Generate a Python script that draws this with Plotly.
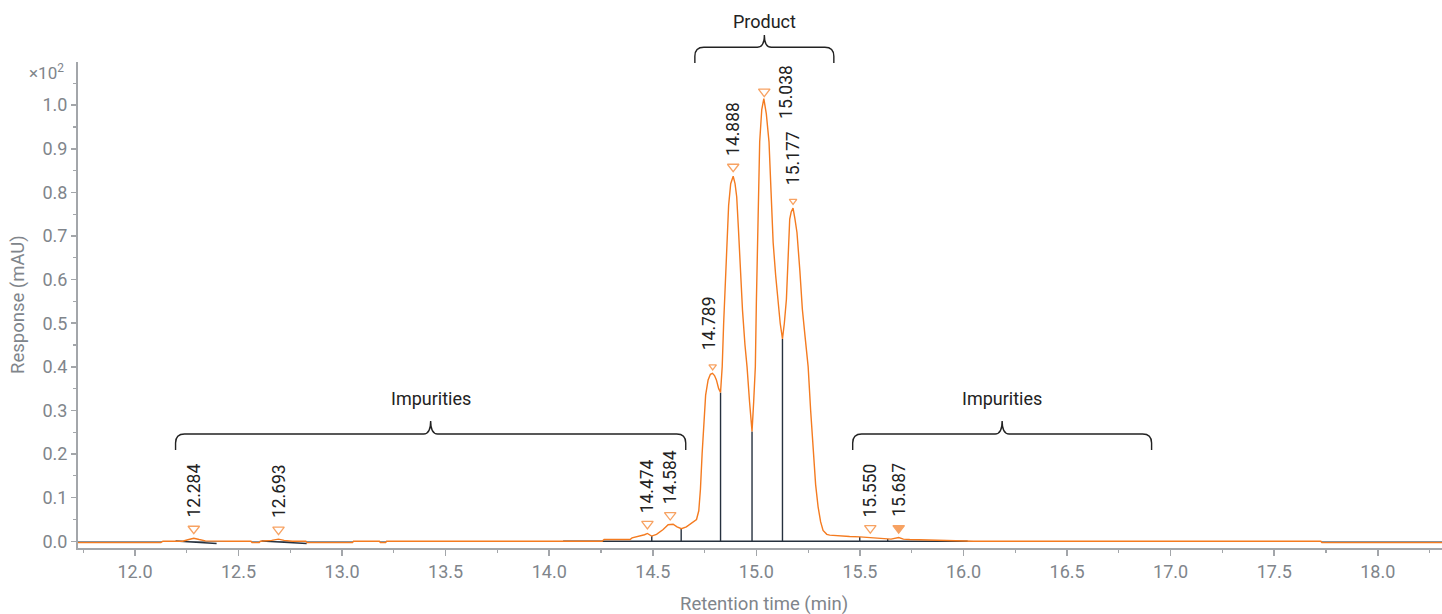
import numpy as np
import plotly.graph_objects as go

# ---------------- data ----------------
time_min = [11.725, 12.125, 12.135, 12.23, 12.26, 12.284, 12.31, 12.34, 12.45,
            12.56, 12.565, 12.60, 12.605, 12.66, 12.693, 12.72, 12.76, 12.825,
            12.83, 13.05, 13.055, 13.18, 13.185, 13.21, 13.215, 14.255, 14.265,
            14.39, 14.40, 14.437, 14.46, 14.474, 14.494, 14.518, 14.55, 14.574,
            14.598, 14.617, 14.638, 14.662, 14.694, 14.711, 14.722, 14.73, 14.738,
            14.746, 14.755, 14.767, 14.778, 14.788, 14.798, 14.807, 14.818, 14.827,
            14.835, 14.842, 14.85, 14.858, 14.866, 14.876, 14.888, 14.897, 14.905,
            14.913, 14.92, 14.933, 14.945, 14.955, 14.967, 14.979, 14.987, 14.995,
            15.0, 15.008, 15.016, 15.026, 15.036, 15.048, 15.061, 15.071, 15.081,
            15.093, 15.105, 15.115, 15.126, 15.135, 15.145, 15.153, 15.161, 15.168,
            15.177, 15.186, 15.196, 15.21, 15.222, 15.235, 15.25, 15.262, 15.274,
            15.286, 15.298, 15.31, 15.322, 15.34, 15.354, 15.40, 15.45, 15.50,
            15.61, 15.65, 15.687, 15.71, 15.74, 15.85, 16.0, 16.05, 17.725, 17.73,
            18.31]
response = [-0.003, -0.003, 0.0, 0.0, 0.004, 0.007, 0.004, 0.001, 0.0,
            0.0, -0.003, -0.003, 0.0, 0.002, 0.005, 0.002, 0.0, 0.0,
            -0.003, -0.003, 0.0, 0.0, -0.003, -0.003, 0.0, 0.0, 0.004,
            0.004, 0.0077, 0.0115, 0.015, 0.018, 0.012, 0.016, 0.027, 0.038,
            0.039, 0.033, 0.029, 0.033, 0.043, 0.05, 0.07, 0.12, 0.20,
            0.28, 0.335, 0.37, 0.383, 0.385, 0.38, 0.37, 0.35, 0.341,
            0.40, 0.50, 0.60, 0.70, 0.77, 0.82, 0.837, 0.82, 0.79,
            0.72, 0.647, 0.53, 0.45, 0.40, 0.32, 0.252, 0.32, 0.40,
            0.55, 0.75, 0.916, 0.99, 1.015, 0.98, 0.916, 0.80, 0.685,
            0.61, 0.54, 0.50, 0.464, 0.50, 0.555, 0.66, 0.739, 0.755,
            0.764, 0.74, 0.708, 0.62, 0.532, 0.47, 0.40, 0.30, 0.21,
            0.13, 0.079, 0.045, 0.025, 0.016, 0.014, 0.012, 0.011, 0.010,
            0.006, 0.005, 0.0085, 0.005, 0.004, 0.0023, 0.001, 0.0, 0.0, -0.003,
            -0.003]

peak_times = [12.284, 12.693, 14.474, 14.584, 14.789, 14.888, 15.038, 15.177, 15.550, 15.687]
peak_labels = ["12.284", "12.693", "14.474", "14.584", "14.789", "14.888",
               "15.038", "15.177", "15.550", "15.687"]
peak_small = [False, False, False, False, True, False, False, True, False, False]
peak_filled = [False, False, False, False, False, False, False, False, False, True]

drop_times = [14.495, 14.637, 14.827, 14.979, 15.126, 15.499, 15.634]

baseline_t0 = [12.196, 12.611, 14.067, 15.499]
baseline_t1 = [12.394, 12.829, 15.499, 16.02]
baseline_v0 = [0.0007, 0.0007, 0.0, 0.0]
baseline_v1 = [-0.005, -0.005, 0.0, 0.0]

group_labels = ["Impurities", "Product", "Impurities"]
group_t0 = [12.196, 14.703, 15.465]
group_t1 = [14.659, 15.374, 16.908]

x_ticks_fmt = ".1f"

# ---------------- layout constants ----------------
W, H = 1442, 614
ML, MR, MT, MB = 78, 0, 62, 66
PW, PH = W - ML - MR, H - MT - MB
X_RANGE = [11.725, 18.31]
Y_RANGE = [-0.0154, 1.099]
px_x = PW / (X_RANGE[1] - X_RANGE[0])
px_y = PH / (Y_RANGE[1] - Y_RANGE[0])

ORANGE = "#F47B20"
DARK = "#26313f"
GRAY = "#80858b"
AXIS = "#a3a6aa"
FONT = "Roboto"

t_arr = np.array(time_min)
r_arr = np.array(response)

fig = go.Figure()

# integration baselines and drop lines
bx, by = [], []
for a, b, va, vb in zip(baseline_t0, baseline_t1, baseline_v0, baseline_v1):
    bx += [a, b, None]
    by += [va, vb, None]
for t in drop_times:
    bx += [t, t, None]
    by += [0.0, float(np.interp(t, t_arr, r_arr)), None]
fig.add_trace(go.Scatter(x=bx, y=by, mode="lines",
                         line=dict(color=DARK, width=1.4), hoverinfo="skip",
                         showlegend=False))

# chromatogram
fig.add_trace(go.Scatter(x=time_min, y=response, mode="lines",
                         line=dict(color=ORANGE, width=1.4), showlegend=False))

# peak markers
pk_h = np.interp(peak_times, t_arr, r_arr)
mk_y = [h + (7 if s else 9.5) / px_y for h, s in zip(pk_h, peak_small)]
fig.add_trace(go.Scatter(
    x=peak_times, y=mk_y, mode="markers",
    marker=dict(symbol=["triangle-down" if f else "triangle-down-open" for f in peak_filled],
                size=[6.5 if s else 10 for s in peak_small],
                color=ORANGE, line=dict(color=ORANGE, width=1.3)),
    showlegend=False, hoverinfo="skip"))

annotations = []
for t, y, lab, s in zip(peak_times, mk_y, peak_labels, peak_small):
    if lab == "15.038":
        annotations.append(dict(x=t, y=y, xref="x", yref="y", text=lab, showarrow=False,
                                textangle=-90, xanchor="left", yanchor="middle", xshift=9,
                                font=dict(family=FONT, size=17.5, color="#222222")))
    else:
        annotations.append(dict(x=t, y=y, xref="x", yref="y", text=lab, showarrow=False,
                                textangle=-90, xanchor="center", yanchor="bottom",
                                yshift=(14 if s else 9), xshift=(-4 if lab == "14.789" else 0),
                                font=dict(family=FONT, size=17.5, color="#222222")))

# braces
def ppy(py):
    return (H - MB - py) / PH

shapes = []
for lab, a, b in zip(group_labels, group_t0, group_t1):
    if lab == "Product":
        yb, yl, yc, ytxt = ppy(63), ppy(47.3), ppy(35), ppy(21)
    else:
        yb, yl, yc, ytxt = ppy(450), ppy(434), ppy(421), ppy(398)
    m = (a + b) / 2
    rx = 9 / px_x
    rv = 9 / PH
    cx = 7 / px_x
    path = (f"M{a},{yb} L{a},{yl - rv} Q{a},{yl} {a + rx},{yl} "
            f"L{m - cx},{yl} Q{m},{yl} {m},{yc} Q{m},{yl} {m + cx},{yl} "
            f"L{b - rx},{yl} Q{b},{yl} {b},{yl - rv} L{b},{yb}")
    shapes.append(dict(type="path", path=path, xref="x", yref="paper",
                       line=dict(color="#222222", width=1.4)))
    annotations.append(dict(x=m, y=ytxt, xref="x", yref="paper", text=lab,
                            showarrow=False, xanchor="center", yanchor="middle",
                            font=dict(family=FONT, size=18, color="#222222")))

# axis titles and exponent
annotations.append(dict(x=0, y=0.5, xref="paper", yref="paper", text="Response (mAU)",
                        textangle=-90, showarrow=False, xanchor="center", yanchor="middle",
                        xshift=-60, font=dict(family=FONT, size=18.5, color=GRAY)))
annotations.append(dict(x=0.5, y=0, xref="paper", yref="paper", text="Retention time (min)",
                        showarrow=False, xanchor="center", yanchor="middle",
                        yshift=-56, xshift=4, font=dict(family=FONT, size=18.5, color=GRAY)))
annotations.append(dict(x=0, y=1, xref="paper", yref="paper", text="×10<sup>2</sup>",
                        showarrow=False, xanchor="right", yanchor="middle",
                        xshift=-12, yshift=-10, font=dict(family=FONT, size=17, color=GRAY)))

fig.update_layout(
    width=W, height=H,
    margin=dict(l=ML, r=MR, t=MT, b=MB),
    paper_bgcolor="white", plot_bgcolor="white",
    font=dict(family=FONT, size=18, color=GRAY),
    shapes=shapes, annotations=annotations,
    hovermode=False,
    xaxis=dict(range=X_RANGE, tick0=12, dtick=0.5, tickformat=x_ticks_fmt,
               showgrid=False, zeroline=False, showline=True, linecolor=AXIS, linewidth=2,
               ticks="outside", ticklen=6, tickwidth=1.5, tickcolor=AXIS,
               tickfont=dict(family=FONT, size=18, color=GRAY),
               minor=dict(dtick=0.25, tick0=12, ticks="outside", ticklen=3,
                          tickwidth=1.2, tickcolor=AXIS)),
    yaxis=dict(range=Y_RANGE, tick0=0, dtick=0.1, tickformat=".1f",
               showgrid=False, zeroline=True, zerolinecolor="#8d9297", zerolinewidth=1,
               showline=True, linecolor=AXIS, linewidth=2,
               ticks="outside", ticklen=5, tickwidth=1.5, tickcolor=AXIS,
               tickfont=dict(family=FONT, size=18, color=GRAY),
               minor=dict(dtick=0.05, tick0=0, ticks="outside", ticklen=3,
                          tickwidth=1.2, tickcolor=AXIS)),
)

fig.write_html("out.html",
               config={"displayModeBar": False, "staticPlot": True},
               post_script="document.body.style.margin='0px';document.body.style.overflow='hidden';")
